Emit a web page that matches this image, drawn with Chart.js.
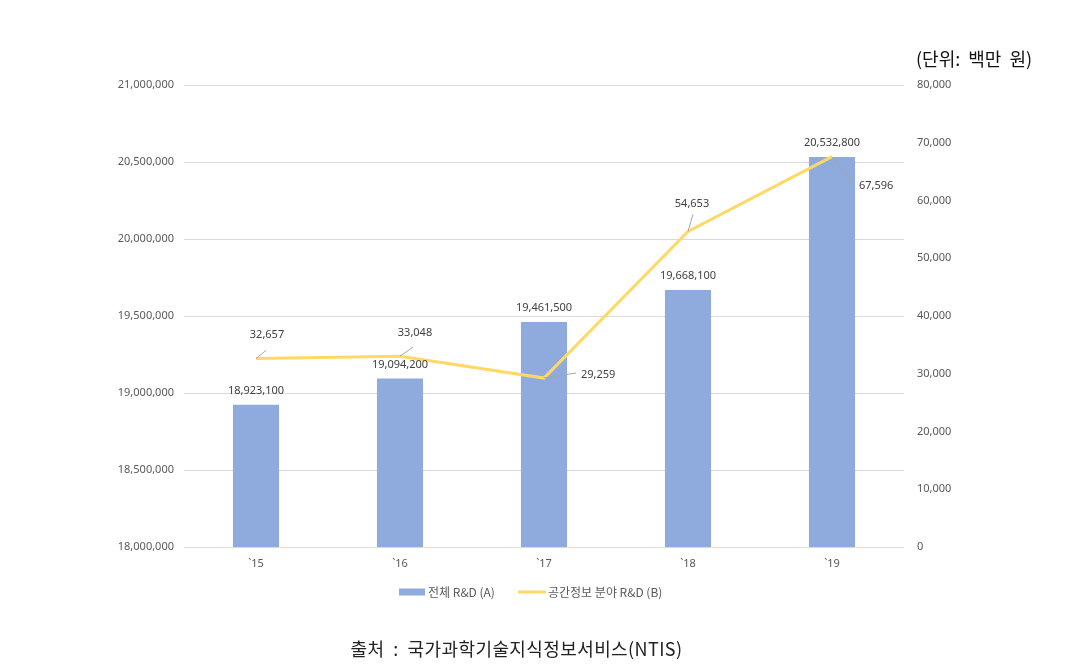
<!DOCTYPE html>
<html><head><meta charset="utf-8">
<script src="https://cdn.jsdelivr.net/npm/chart.js@4.4.1/dist/chart.umd.min.js"></script>
<style>
html,body{margin:0;padding:0;background:#fff;}
#wrap{position:relative;width:1065px;height:664px;}
canvas{position:absolute;left:0;top:0;}
.unit{position:absolute;left:916px;top:45px;font-family:"Noto Sans CJK KR","Noto Sans",sans-serif;font-size:18px;line-height:26px;color:#111;white-space:nowrap;}
.src{position:absolute;left:0;width:1033px;top:635px;text-align:center;font-family:"Noto Sans CJK KR","Noto Sans",sans-serif;font-size:18px;line-height:26px;color:#222;white-space:nowrap;letter-spacing:0.4px;}
</style></head>
<body>
<div id="wrap">
<canvas id="c" width="1065" height="664"></canvas>
<div class="unit">(단위:&nbsp; 백만&nbsp; 원)</div>
<div class="src">출처 &nbsp;:&nbsp; 국가과학기술지식정보서비스(NTIS)</div>
</div>
<script>
const categories = ["`15", "`16", "`17", "`18", "`19"];
const totalRD = [18923100, 19094200, 19461500, 19668100, 20532800];
const spatialRD = [32657, 33048, 29259, 54653, 67596];
const seriesNames = ["전체 R&D (A)", "공간정보 분야 R&D (B)"];

const fmt = v => Number(v).toLocaleString('en-US');
const numFont = '"Noto Sans", "Open Sans", sans-serif';
const krFont = '"Noto Sans CJK KR", "Noto Sans", sans-serif';

// label placement (offsets from the point, style only)
const lineLabelPos = [
  {dx: 11, dy: -24, lx: 10, ly: -8, align: 'center'},
  {dx: 15, dy: -23, lx: 13, ly: -9, align: 'center'},
  {dx: 37, dy: -3, lx: 32, ly: -5, align: 'left'},
  {dx: 4, dy: -28, lx: 5, ly: -17, align: 'center'},
  {dx: 27, dy: 29, lx: 21, ly: 26, align: 'left'}
];

const labelPlugin = {
  id: 'labels',
  afterDatasetsDraw(chart) {
    const ctx = chart.ctx;
    ctx.save();
    const barMeta = chart.getDatasetMeta(0);
    ctx.font = '11px ' + numFont;
    ctx.fillStyle = '#404040';
    ctx.textAlign = 'center';
    ctx.textBaseline = 'middle';
    barMeta.data.forEach((el, i) => {
      ctx.fillText(fmt(totalRD[i]), el.x, el.y - 14);
    });
    const lineMeta = chart.getDatasetMeta(1);
    lineMeta.data.forEach((el, i) => {
      const p = lineLabelPos[i];
      ctx.strokeStyle = '#a6a6a6';
      ctx.lineWidth = 1;
      ctx.beginPath();
      ctx.moveTo(el.x, el.y);
      ctx.lineTo(el.x + p.lx, el.y + p.ly);
      ctx.stroke();
      ctx.textAlign = p.align;
      ctx.fillStyle = '#404040';
      ctx.fillText(fmt(spatialRD[i]), el.x + p.dx, el.y + p.dy);
    });
    ctx.restore();
  },
  afterDraw(chart) {
    const ctx = chart.ctx;
    ctx.save();
    const y = 592;
    ctx.fillStyle = '#8FAADC';
    ctx.fillRect(399, y - 3.5, 26, 7);
    ctx.textBaseline = 'middle';
    ctx.textAlign = 'left';
    ctx.fillStyle = '#595959';
    ctx.font = '12px ' + krFont;
    ctx.fillText(seriesNames[0], 428, y);
    ctx.strokeStyle = '#FFD966';
    ctx.lineWidth = 3;
    ctx.beginPath();
    ctx.moveTo(518, y); ctx.lineTo(546, y);
    ctx.stroke();
    ctx.fillText(seriesNames[1], 548, y);
    ctx.restore();
  }
};

new Chart(document.getElementById('c'), {
  data: {
    labels: categories,
    datasets: [
      {type: 'bar', label: seriesNames[0], data: totalRD, yAxisID: 'y', backgroundColor: '#8FAADC',
       barPercentage: 0.32, categoryPercentage: 1, order: 2},
      {type: 'line', label: seriesNames[1], data: spatialRD, yAxisID: 'y1', borderColor: '#FFD966',
       borderWidth: 3, pointRadius: 0, tension: 0, fill: false, order: 1}
    ]
  },
  options: {
    responsive: false,
    animation: false,
    layout: {padding: {top: 85, left: 0, right: 0, bottom: 0}},
    plugins: {legend: {display: false}, tooltip: {enabled: false}, title: {display: false}},
    scales: {
      x: {
        offset: true,
        grid: {display: false, drawTicks: false},
        border: {display: false},
        ticks: {color: '#595959', font: {size: 11, family: numFont}, padding: 10},
        afterFit(s) { s.height = 117; }
      },
      y: {
        position: 'left', min: 18000000, max: 21000000,
        ticks: {stepSize: 500000, color: '#595959', font: {size: 11, family: numFont}, padding: 10,
                callback: v => fmt(v)},
        grid: {color: '#d9d9d9', drawTicks: false},
        border: {display: false},
        afterFit(s) { s.width = 184; }
      },
      y1: {
        position: 'right', min: 0, max: 80000,
        ticks: {stepSize: 10000, color: '#595959', font: {size: 11, family: numFont}, padding: 13,
                callback: v => fmt(v)},
        grid: {display: false, drawTicks: false},
        border: {display: false},
        afterFit(s) { s.width = 161; }
      }
    }
  },
  plugins: [labelPlugin]
});
</script>
</body></html>
